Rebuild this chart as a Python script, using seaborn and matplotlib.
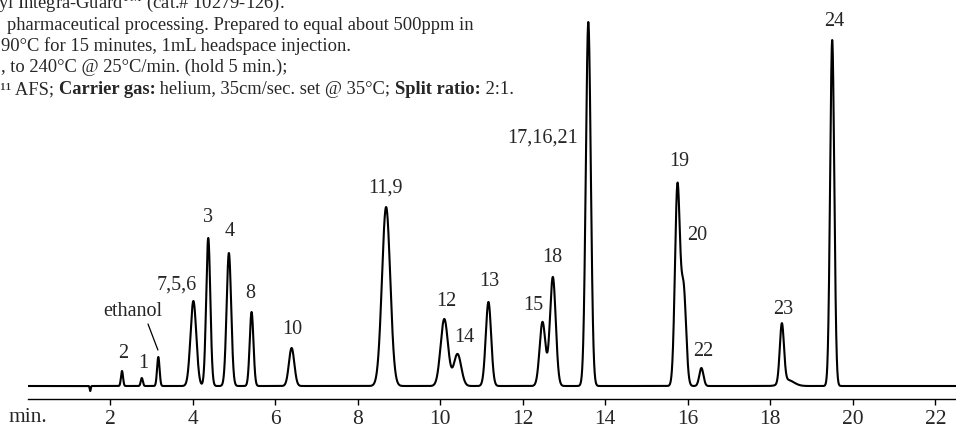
import numpy as np
import pandas as pd
import seaborn as sns
import matplotlib.pyplot as plt

# Peaks: retention time (min), height, width (sigma, min)
peak_rt = [1.52, 2.29, 2.77, 3.17, 4.02, 4.38, 4.88, 5.43, 6.40, 8.69, 10.10, 10.42,
           11.17, 12.48, 12.73, 13.59, 15.75, 15.90, 16.33, 18.28, 18.42, 19.50]
peak_height = [-5, 15, 8, 29, 85, 148, 133, 74, 38, 179, 67, 32,
               84, 64, 109, 364, 199, 95, 18, 59, 6, 346]
peak_sigma = [0.012, 0.025, 0.025, 0.03, 0.07, 0.05, 0.055, 0.045, 0.065, 0.1, 0.09, 0.09,
              0.065, 0.07, 0.07, 0.06, 0.06, 0.06, 0.05, 0.05, 0.15, 0.05]

# Peak labels (text, time, height where the label sits)
label_text = ["2", "1", "7,5,6", "3", "4", "8", "10", "11,9", "12", "14", "13",
              "15", "18", "17,16,21", "19", "20", "22", "23", "24"]
label_t = [2.32, 2.80, 3.62, 4.38, 4.91, 5.39, 6.41, 8.67, 10.15, 10.58, 11.19,
           12.25, 12.72, 12.47, 15.79, 16.23, 16.38, 18.32, 19.55]
label_y = [32, 22, 101, 168, 154, 93, 56, 198, 84, 49, 104,
           81, 129, 248, 224, 150, 34, 76, 364]

tick_min = [2, 4, 6, 8, 10, 12, 14, 16, 18, 20, 22]

deg = "\u00b0"
header_lines = [
    r"yl Integra-Guard$^{\mathrm{TM}}$ (cat.# 10279-126).",
    "pharmaceutical processing. Prepared to equal about 500ppm in",
    "90" + deg + "C for 15 minutes, 1mL headspace injection.",
    ", to 240" + deg + "C @ 25" + deg + "C/min. (hold 5 min.);",
]
header_x = [-2, 7, 1, 1]
header_base = [8, 30, 51, 72]

# last header line, mixed regular / bold pieces
last_pieces = ["r\u00b9\u00b9 AFS; ", "Carrier gas:", " helium, 35cm/sec. set @ 35" + deg + "C; ",
               "Split ratio:", " 2:1."]
last_bold = [False, True, False, True, False]
last_x, last_base = -6, 94

# build trace
t = np.linspace(0, 22.5, 9000)
signal = np.zeros_like(t)
for rt, h, s in zip(peak_rt, peak_height, peak_sigma):
    signal += h * np.exp(-0.5 * ((t - rt) / s) ** 2)
df = pd.DataFrame({"time": t, "signal": signal})

sns.set_theme(style="white")
plt.rcParams["font.family"] = ["Liberation Serif", "DejaVu Serif"]
plt.rcParams["mathtext.fontset"] = "custom"
plt.rcParams["mathtext.rm"] = "Liberation Serif"

W, H = 956, 428
fig = plt.figure(figsize=(W / 100, H / 100), dpi=100)
ax = fig.add_axes([27.5 / W, (H - 399) / H, (W - 27.5) / W, 399 / H])

sns.lineplot(data=df, x="time", y="signal", color="black", lw=1.5, ax=ax)

ax.set_xlim(0, 22.5)
ax.set_ylim(-13, 386)
ax.set_xticks(tick_min)
ax.set_xticklabels([str(v) for v in tick_min], fontsize=15.5)
ax.set_yticks([])
ax.set_xlabel("")
ax.set_ylabel("")
for side in ["top", "right", "left"]:
    ax.spines[side].set_visible(False)
ax.spines["bottom"].set_color("black")
ax.spines["bottom"].set_linewidth(1.0)
ax.tick_params(axis="x", direction="out", length=4.5, width=1, color="black",
               bottom=True, pad=3.5)
ax.set_facecolor("white")

for txt, xt, yt in zip(label_text, label_t, label_y):
    ax.text(xt, yt, txt, ha="center", va="center", fontsize=14.5)

ax.text(2.56, 75, "ethanol", ha="center", va="center", fontsize=14.5)
ax.annotate("", xy=(3.16, 36), xytext=(2.92, 62),
            arrowprops=dict(arrowstyle="-", color="black", lw=0.9, shrinkA=0, shrinkB=0))

fig.text(28 / W, 1 - 418 / H, "min.", ha="center", va="center", fontsize=15.5)

for line, x0, yb in zip(header_lines, header_x, header_base):
    fig.text(x0 / W, 1 - yb / H, line, ha="left", va="baseline", fontsize=13.3)

prev = fig.text(last_x / W, 1 - last_base / H, last_pieces[0], ha="left", va="baseline",
                fontsize=13.3)
for piece, bold in zip(last_pieces[1:], last_bold[1:]):
    prev = ax.annotate(piece, xy=(1, 0), xycoords=prev, ha="left", va="bottom",
                       fontsize=13.3, fontweight="bold" if bold else "normal",
                       annotation_clip=False)

fig.savefig("out.png", dpi=100, facecolor="white")
